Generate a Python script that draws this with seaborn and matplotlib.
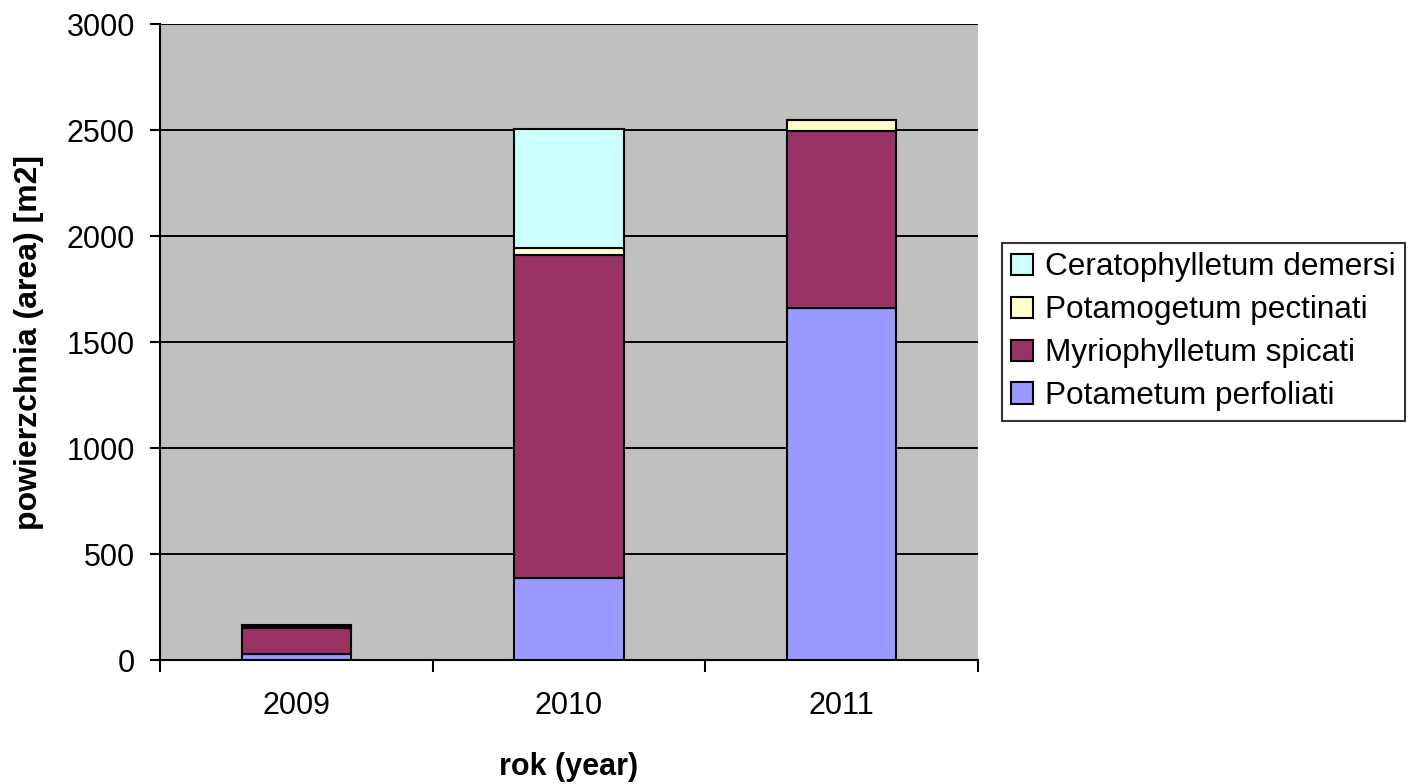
import numpy as np
import pandas as pd
import matplotlib
matplotlib.use("Agg")
import matplotlib.pyplot as plt
from matplotlib.patches import Patch
import seaborn as sns

# data
years = ["2009", "2010", "2011"]
perfoliati = [27, 387, 1660]
spicati = [123, 1523, 835]
pectinati = [5, 33, 52]
demersi = [8, 562, 0]

series = ["Potametum perfoliati", "Myriophylletum spicati",
          "Potamogetum pectinati", "Ceratophylletum demersi"]
colors = ["#9999FF", "#993366", "#FFFFCC", "#CCFFFF"]

df = pd.DataFrame({
    "rok": years,
    series[0]: perfoliati,
    series[1]: spicati,
    series[2]: pectinati,
    series[3]: demersi,
})

sns.set_style("white")
plt.rcParams['font.family'] = ['Liberation Sans', 'DejaVu Sans']
plt.rcParams['text.color'] = 'black'
plt.rcParams['axes.labelcolor'] = 'black'
plt.rcParams['xtick.color'] = 'black'
plt.rcParams['ytick.color'] = 'black'

fig = plt.figure(figsize=(14.08, 7.84), dpi=100)
ax = fig.add_axes([160 / 1408, 1 - 660 / 784, 818 / 1408, 636 / 784])
ax.set_facecolor("#C0C0C0")

# stacked bars
bottom = np.zeros(len(years))
for name, col in zip(series, colors):
    sns.barplot(data=df, x="rok", y=name, color=col, width=0.4,
                bottom=bottom, edgecolor="black", linewidth=1.5,
                saturation=1, ax=ax, zorder=3)
    bottom = bottom + df[name].values

ax.set_ylim(0, 3000)
ax.set_xlim(-0.5, 2.5)
ax.set_yticks(np.arange(0, 3001, 500))
ax.yaxis.grid(True, color="black", linewidth=1.4, zorder=0)
ax.set_axisbelow(True)

for side in ["top", "right"]:
    ax.spines[side].set_visible(False)
for side in ["left", "bottom"]:
    ax.spines[side].set_color("black")
    ax.spines[side].set_linewidth(1.5)

ax.tick_params(axis="y", which="major", direction="out", length=7, width=1.5,
               left=True, labelsize=22, pad=11)
ax.tick_params(axis="x", which="major", length=0, labelsize=22, pad=22)
ax.set_xticks([-0.5, 0.5, 1.5, 2.5], minor=True)
ax.tick_params(axis="x", which="minor", direction="out", length=8.5, width=1.5,
               bottom=True)

ax.set_xlabel("rok (year)", fontsize=22, fontweight="bold")
ax.set_ylabel("powierzchnia (area) [m2]", fontsize=23, fontweight="bold")
ax.xaxis.set_label_coords(0.5, -0.145)
ax.yaxis.set_label_coords(-0.142, 0.5)

handles = [Patch(facecolor=c, edgecolor="black", linewidth=1.5, label=s)
           for s, c in zip(series, colors)]
leg = fig.legend(handles=handles[::-1], loc="upper left",
                 bbox_to_anchor=(1002 / 1408, 1 - 243 / 784),
                 fontsize=22.7, frameon=True, fancybox=False,
                 handlelength=0.67, handleheight=0.67, handletextpad=0.4,
                 labelspacing=0.41, borderpad=0.3, borderaxespad=0)
leg.get_frame().set_edgecolor("black")
leg.get_frame().set_linewidth(1.5)

fig.savefig("out.png", dpi=100, facecolor="white")
